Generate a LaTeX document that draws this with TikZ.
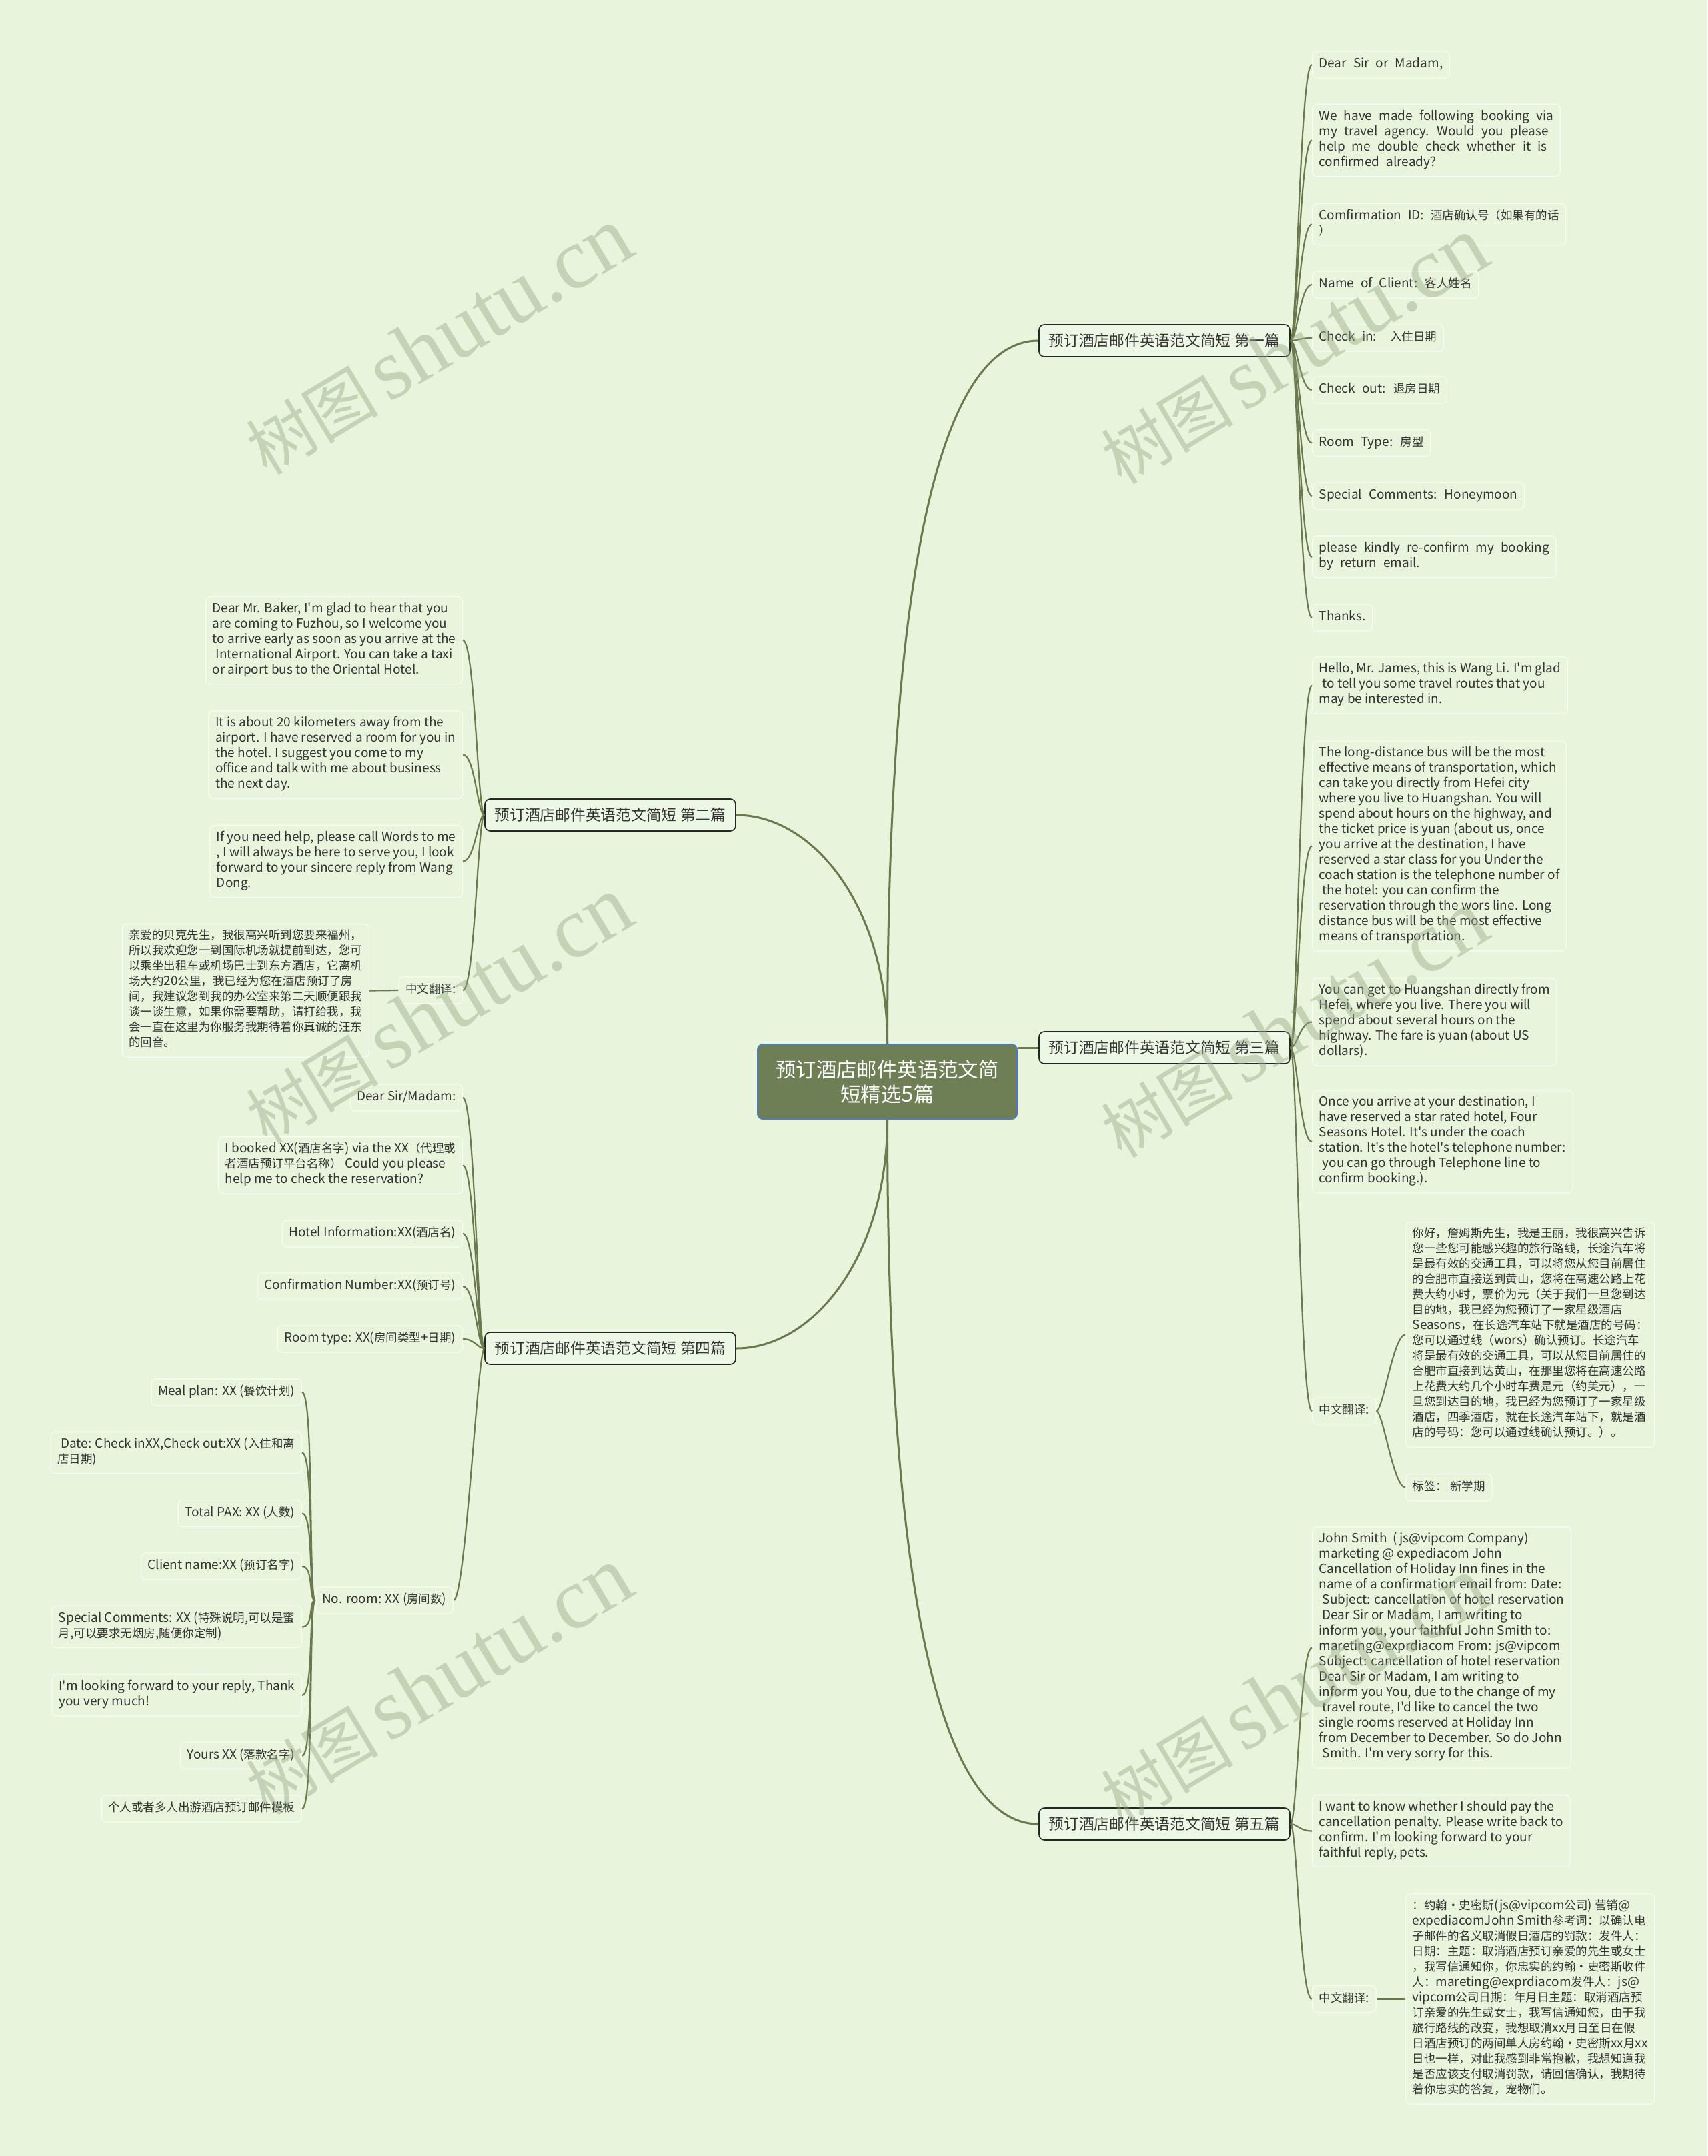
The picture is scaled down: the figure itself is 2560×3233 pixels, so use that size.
\documentclass[tikz,border=0pt]{standalone}
\usepackage{fontspec}
\setmainfont[Ligatures=TeXOff]{Noto Sans CJK SC}
\newfontfamily\cjkF[Scale=0.921,Ligatures=TeXOff]{Noto Sans CJK SC}
\newfontfamily\wmserif{Liberation Serif}
% CJK characters are set a little smaller than Latin ones
\XeTeXinterchartokenstate=1
\newXeTeXintercharclass\myCJK
\newcount\mycnt
\mycnt="2E80
\loop \XeTeXcharclass\mycnt=\myCJK \advance\mycnt by 1 \ifnum\mycnt<"A000 \repeat
\mycnt="FF00
\loop \XeTeXcharclass\mycnt=\myCJK \advance\mycnt by 1 \ifnum\mycnt<"FFF0 \repeat
\XeTeXcharclass"00B7=\myCJK
\XeTeXinterchartoks 0 \myCJK = {\begingroup\cjkF}
\XeTeXinterchartoks 4095 \myCJK = {\begingroup\cjkF}
\XeTeXinterchartoks \myCJK 0 = {\endgroup}
\XeTeXinterchartoks \myCJK 4095 = {\endgroup}

\definecolor{bg}{HTML}{E8F5DC}
\definecolor{lineC}{HTML}{6A7A4E}
\definecolor{leafB}{HTML}{F8FCF4}
\definecolor{txt}{HTML}{333333}
\definecolor{brF}{HTML}{EDF7E5}
\definecolor{rootF}{HTML}{6E7F55}
\definecolor{rootB}{HTML}{4F7CC0}
\definecolor{wmC}{HTML}{9AAA88}

\newcommand\leaffont{\fontsize{19}{23}\selectfont}
\newcommand\wideleaffont{\fontsize{19}{23}\selectfont\spaceskip=10pt plus 2pt minus 1pt\relax}
\newcommand\branchfont{\fontsize{24.7}{30}\selectfont}
\newcommand\rootfont{\fontsize{33}{37}\selectfont}
\newcommand\ind{\hspace*{5pt}}

\tikzset{
  conn/.style={draw=lineC, line width=3pt},
  leafline/.style={draw=lineC, line width=2.2pt},
  leaf/.style={draw=leafB, line width=1.3pt, rounded corners=7pt, inner xsep=10pt, inner ysep=8.5pt,
    align=left, text=txt, font=\leaffont, execute at begin node=\strut, execute at end node=\strut},
  wleaf/.style={leaf, font=\wideleaffont},
  branch/.style={draw=black!85, fill=brF, line width=1.6pt, rounded corners=8pt, minimum width=376pt,
    minimum height=48pt, inner sep=0pt, text=txt, font=\branchfont},
  root/.style={draw=rootB, fill=rootF, line width=2pt, rounded corners=8pt, minimum width=389pt,
    minimum height=112pt, inner sep=0pt, text=white, align=center, font=\rootfont},
  wm/.style={text=wmC, opacity=0.45, rotate=31, inner sep=0pt}
}

\begin{document}
\begin{tikzpicture}[x=1pt,y=-1pt]
\fill[bg] (0,0) rectangle (2560,3233);
\useasboundingbox (0,0) rectangle (2560,3233);

% root and branches
\node[root] (c) at (1330.5,1622) {预订酒店邮件英语范文简\\短精选5篇};
\node[branch] (B1) at (1746,511) {预订酒店邮件英语范文简短 第一篇};
\node[branch] (B3) at (1746,1571) {预订酒店邮件英语范文简短 第三篇};
\node[branch] (B5) at (1746,2735) {预订酒店邮件英语范文简短 第五篇};
\node[branch] (B2) at (915,1222) {预订酒店邮件英语范文简短 第二篇};
\node[branch] (B4) at (915,2022) {预订酒店邮件英语范文简短 第四篇};

% branch 1 leaves
\node[wleaf, anchor=west] (L1a) at (1967,97) {Dear Sir or Madam,};
\node[wleaf, anchor=west] (L1b) at (1967,210.5) {We have made following booking via\\my travel agency. Would you please\\help me double check whether it is\\confirmed already?};
\node[wleaf, anchor=west] (L1c) at (1967,336.5) {Comfirmation ID: 酒店确认号（如果有的话\\）};
\node[wleaf, anchor=west] (L1d) at (1967,427) {Name of Client: 客人姓名};
\node[wleaf, anchor=west] (L1e) at (1967,507) {Check in:\ \ 入住日期};
\node[wleaf, anchor=west] (L1f) at (1967,585) {Check out: 退房日期};
\node[wleaf, anchor=west] (L1g) at (1967,664.5) {Room Type: 房型};
\node[wleaf, anchor=west] (L1h) at (1967,744) {Special Comments: Honeymoon};
\node[wleaf, anchor=west] (L1i) at (1967,835) {please kindly re-confirm my booking\\by return email.};
\node[wleaf, anchor=west] (L1j) at (1967,926) {Thanks.};

% branch 3 leaves
\node[leaf, anchor=west] (L3a) at (1967,1027.5) {Hello, Mr. James, this is Wang Li. I'm glad\\\ind to tell you some travel routes that you\\may be interested in.};
\node[leaf, anchor=west] (L3b) at (1967,1268.5) {The long-distance bus will be the most\\effective means of transportation, which\\can take you directly from Hefei city\\where you live to Huangshan. You will\\spend about hours on the highway, and\\the ticket price is yuan (about us, once\\you arrive at the destination, I have\\reserved a star class for you Under the\\coach station is the telephone number of\\\ind the hotel: you can confirm the\\reservation through the wors line. Long\\distance bus will be the most effective\\means of transportation.};
\node[leaf, anchor=west] (L3c) at (1967,1532.5) {You can get to Huangshan directly from\\Hefei, where you live. There you will\\spend about several hours on the\\highway. The fare is yuan (about US\\dollars).};
\node[leaf, anchor=west] (L3d) at (1967,1712) {Once you arrive at your destination, I\\have reserved a star rated hotel, Four\\Seasons Hotel. It's under the coach\\station. It's the hotel's telephone number:\\\ind you can go through Telephone line to\\confirm booking.).};
\node[leaf, anchor=west] (L3e) at (1967,2116) {中文翻译:};
\node[leaf, anchor=west] (L3f) at (2107,2001.5) {你好，詹姆斯先生，我是王丽，我很高兴告诉\\您一些您可能感兴趣的旅行路线，长途汽车将\\是最有效的交通工具，可以将您从您目前居住\\的合肥市直接送到黄山，您将在高速公路上花\\费大约小时，票价为元（关于我们一旦您到达\\目的地，我已经为您预订了一家星级酒店\\Seasons，在长途汽车站下就是酒店的号码：\\您可以通过线（wors）确认预订。长途汽车\\将是最有效的交通工具，可以从您目前居住的\\合肥市直接到达黄山，在那里您将在高速公路\\上花费大约几个小时车费是元（约美元），一\\旦您到达目的地，我已经为您预订了一家星级\\酒店，四季酒店，就在长途汽车站下，就是酒\\店的号码：您可以通过线确认预订。）。};
\node[leaf, anchor=west] (L3g) at (2107,2230.5) {标签： 新学期};

% branch 5 leaves
\node[leaf, anchor=west] (L5a) at (1967,2470.5) {John Smith\ \ ( js@vipcom Company)\\marketing @ expediacom John\\Cancellation of Holiday Inn fines in the\\name of a confirmation email from: Date:\\\ind Subject: cancellation of hotel reservation\\\ind Dear Sir or Madam, I am writing to\\inform you, your faithful John Smith to:\\mareting@exprdiacom From: js@vipcom\\Subject: cancellation of hotel reservation\\Dear Sir or Madam, I am writing to\\inform you You, due to the change of my\\\ind travel route, I'd like to cancel the two\\single rooms reserved at Holiday Inn\\from December to December. So do John\\\ind Smith. I'm very sorry for this.};
\node[leaf, anchor=west] (L5b) at (1967,2745.5) {I want to know whether I should pay the\\cancellation penalty. Please write back to\\confirm. I'm looking forward to your\\faithful reply, pets.};
\node[leaf, anchor=west] (L5c) at (1967,2997.5) {中文翻译:};
\node[leaf, anchor=west] (L5d) at (2107,2997.5) {：约翰·史密斯(js@vipcom公司) 营销@\\expediacomJohn Smith参考词：以确认电\\子邮件的名义取消假日酒店的罚款：发件人：\\日期：主题：取消酒店预订亲爱的先生或女士\\，我写信通知你，你忠实的约翰·史密斯收件\\人：mareting@exprdiacom发件人：js@\\vipcom公司日期：年月日主题：取消酒店预\\订亲爱的先生或女士，我写信通知您，由于我\\旅行路线的改变，我想取消xx月日至日在假\\日酒店预订的两间单人房约翰·史密斯xx月xx\\日也一样，对此我感到非常抱歉，我想知道我\\是否应该支付取消罚款，请回信确认，我期待\\着你忠实的答复，宠物们。};

% branch 2 leaves
\node[leaf, anchor=east] (L2a) at (694,960) {Dear Mr. Baker, I'm glad to hear that you\\are coming to Fuzhou, so I welcome you\\to arrive early as soon as you arrive at the\\\ind International Airport. You can take a taxi\\or airport bus to the Oriental Hotel.};
\node[leaf, anchor=east] (L2b) at (694,1131.5) {It is about 20 kilometers away from the\\airport. I have reserved a room for you in\\the hotel. I suggest you come to my\\office and talk with me about business\\the next day.};
\node[leaf, anchor=east] (L2c) at (694,1291.5) {If you need help, please call Words to me\\, I will always be here to serve you, I look\\forward to your sincere reply from Wang\\Dong.};
\node[leaf, anchor=east] (L2d) at (694,1485) {中文翻译:};
\node[leaf, anchor=east] (L2e) at (554,1485.5) {亲爱的贝克先生，我很高兴听到您要来福州，\\所以我欢迎您一到国际机场就提前到达，您可\\以乘坐出租车或机场巴士到东方酒店，它离机\\场大约20公里，我已经为您在酒店预订了房\\间，我建议您到我的办公室来第二天顺便跟我\\谈一谈生意，如果你需要帮助，请打给我，我\\会一直在这里为你服务我期待着你真诚的汪东\\的回音。};

% branch 4 leaves
\node[leaf, anchor=east] (L4a) at (694,1646) {Dear Sir/Madam:};
\node[leaf, anchor=east] (L4b) at (694,1747.5) {I booked XX(酒店名字) via the XX（代理或\\者酒店预订平台名称） Could you please\\help me to check the reservation?};
\node[leaf, anchor=east] (L4c) at (694,1850) {Hotel Information:XX(酒店名)};
\node[leaf, anchor=east] (L4d) at (694,1929) {Confirmation Number:XX(预订号)};
\node[leaf, anchor=east] (L4e) at (694,2008) {Room type: XX(房间类型+日期)};
\node[leaf, anchor=east] (L4f) at (680,2400) {No. room: XX (房间数)};

% children of No. room
\node[leaf, anchor=east] (N1) at (453,2088) {Meal plan: XX (餐饮计划)};
\node[leaf, anchor=east] (N2) at (453,2178.5) {\ind Date: Check inXX,Check out:XX (入住和离\\店日期)};
\node[leaf, anchor=east] (N3) at (453,2269.5) {Total PAX: XX (人数)};
\node[leaf, anchor=east] (N4) at (453,2349) {Client name:XX (预订名字)};
\node[leaf, anchor=east] (N5) at (453,2439.5) {Special Comments: XX (特殊说明,可以是蜜\\月,可以要求无烟房,随便你定制)};
\node[leaf, anchor=east] (N6) at (453,2542) {I'm looking forward to your reply, Thank\\you very much!};
\node[leaf, anchor=east] (N7) at (453,2632.5) {Yours XX (落款名字)};
\node[leaf, anchor=east] (N8) at (453,2712) {个人或者多人出游酒店预订邮件模板};

% main connectors
\draw[conn] (c.north) .. controls (1330.5,900) and (1400,511) .. (B1.west);
\draw[conn] (c.north) .. controls (1330.5,1360) and (1220,1222) .. (B2.east);
\draw[conn] (c.east |- B3.west) -- (B3.west);
\draw[conn] (c.south) .. controls (1330.5,1884) and (1220,2022) .. (B4.east);
\draw[conn] (c.south) .. controls (1330.5,2344) and (1400,2735) .. (B5.west);

% leaf connectors
\foreach \n in {L1a,L1b,L1c,L1d,L1e,L1f,L1g,L1h,L1i,L1j}
  \draw[leafline] (B1.east) .. controls +(10,0) and +(-18,0) .. (\n.west);
\foreach \n in {L3a,L3b,L3c,L3d,L3e}
  \draw[leafline] (B3.east) .. controls +(10,0) and +(-18,0) .. (\n.west);
\foreach \n in {L3f,L3g}
  \draw[leafline] (L3e.east) .. controls +(10,0) and +(-18,0) .. (\n.west);
\foreach \n in {L5a,L5b,L5c}
  \draw[leafline] (B5.east) .. controls +(10,0) and +(-18,0) .. (\n.west);
\draw[leafline] (L5c.east) -- (L5d.west);
\foreach \n in {L2a,L2b,L2c,L2d}
  \draw[leafline] (B2.west) .. controls +(-10,0) and +(18,0) .. (\n.east);
\draw[leafline] (L2d.west) -- (L2e.east);
\foreach \n in {L4a,L4b,L4c,L4d,L4e,L4f}
  \draw[leafline] (B4.west) .. controls +(-10,0) and +(18,0) .. (\n.east);
\foreach \n in {N1,N2,N3,N4,N5,N6,N7,N8}
  \draw[leafline] (L4f.west) .. controls +(-10,0) and +(18,0) .. (\n.east);

% watermarks
\foreach \p/\q in {658/512, 658/1515, 658/2521, 1940/526, 1940/1536, 1940/2536}
  \node[wm] at (\p,\q) {\fontsize{108}{108}\selectfont 树图\hspace{14pt}{\wmserif\fontsize{130}{130}\selectfont shutu.cn}};
\end{tikzpicture}
\end{document}
